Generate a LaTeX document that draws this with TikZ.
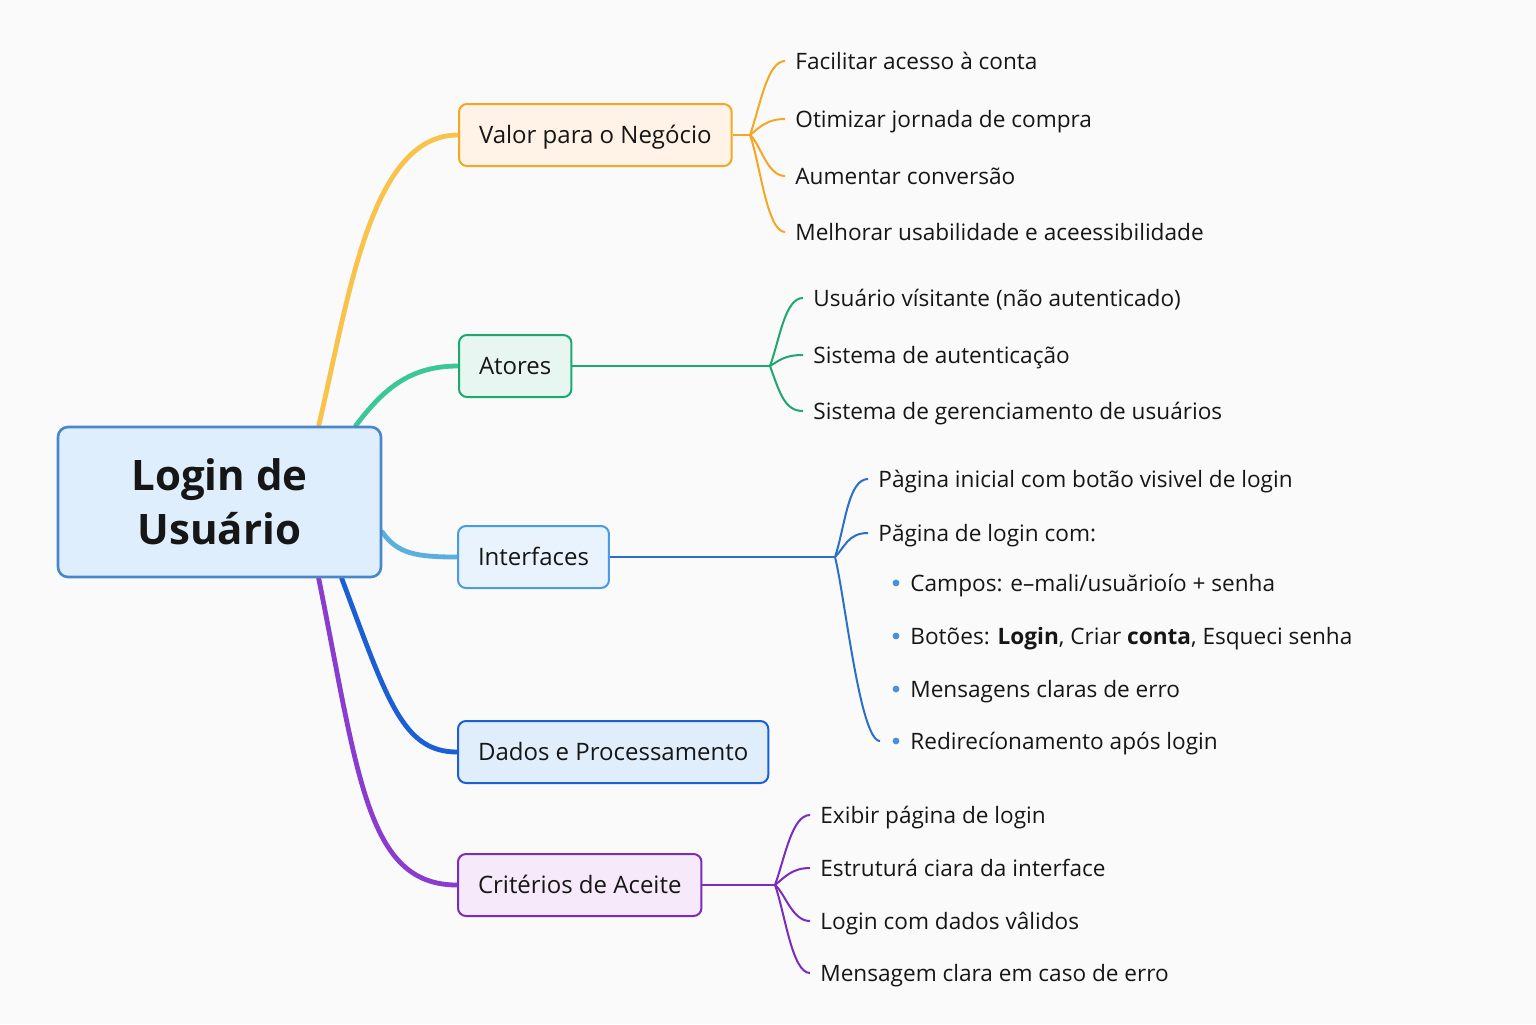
\documentclass[tikz,border=0pt]{standalone}
\usepackage{fontspec}
\setmainfont{Open Sans}
\usepackage{xcolor}
\usetikzlibrary{calc,backgrounds}

\definecolor{ink}{HTML}{161616}
\definecolor{paper}{HTML}{FAFAFA}
\definecolor{rootD}{HTML}{4A86CC}
\definecolor{rootF}{HTML}{DEEEFC}
\definecolor{valD}{HTML}{F5A623}
\definecolor{valF}{HTML}{FEF3E6}
\definecolor{valT}{HTML}{F9C24A}
\definecolor{atoD}{HTML}{1DA86F}
\definecolor{atoF}{HTML}{E8F6F1}
\definecolor{atoT}{HTML}{3CC79A}
\definecolor{intD}{HTML}{4A9BE0}
\definecolor{intF}{HTML}{E8F3FD}
\definecolor{intT}{HTML}{5AAEE0}
\definecolor{intL}{HTML}{2A6FCC}
\definecolor{datD}{HTML}{1A5FD6}
\definecolor{datF}{HTML}{E0EEFC}
\definecolor{criD}{HTML}{7A2BC0}
\definecolor{criF}{HTML}{F5E9FA}
\definecolor{criT}{HTML}{8A3BD0}
\definecolor{dotc}{HTML}{4A90D9}

\begin{document}
\begin{tikzpicture}[x=0.5pt,y=-0.5pt,
      root/.style={
            draw=rootD, fill=rootF, line width=1.3pt,
            rounded corners=5pt, align=center,
            minimum width=161.5pt, minimum height=75pt,
            font=\fontsize{21}{27}\selectfont\bfseries, text=ink
        },
      topic/.style={
            draw, line width=1pt, rounded corners=4pt,
            anchor=west, minimum height=31pt, inner xsep=10pt,
            text height=11pt, text depth=2.5pt,
            font=\fontsize{12}{14}\selectfont, text=ink
        },
      leaf/.style={
            anchor=west, inner xsep=5pt, text height=10.5pt, text depth=2.4pt,
            font=\fontsize{11.3}{13}\selectfont, text=ink
        },
      item/.style={leaf, inner xsep=15pt},
      trunk/.style={line width=2.4pt, line cap=round},
      twig/.style={line width=1pt}
      ]
    \useasboundingbox (0,0) rectangle (1536,1024);

    \node[root] (root) at (219.5,502) {Login de\\Usuário};

    \node[topic, draw=valD, fill=valF] (valor) at (458,135) {Valor para o Negócio};
    \node[topic, draw=atoD, fill=atoF] (atores) at (458,366) {Atores};
    \node[topic, draw=intD, fill=intF] (interf) at (457,557) {Interfaces};
    \node[topic, draw=datD, fill=datF] (dados) at (457,752) {Dados e Processamento};
    \node[topic, draw=criD, fill=criF] (crit) at (457,885) {Critérios de Aceite};

    \node[leaf] (v1) at (785,61) {Facilitar acesso à conta};
    \node[leaf] (v2) at (785,119) {Otimizar jornada de compra};
    \node[leaf] (v3) at (785,176) {Aumentar conversão};
    \node[leaf] (v4) at (785,232) {Melhorar usabilidade e aceessibilidade};

    \node[leaf] (a1) at (803,298) {Usuário vísitante (não autenticado)};
    \node[leaf] (a2) at (803,355) {Sistema de autenticação};
    \node[leaf] (a3) at (803,411) {Sistema de gerenciamento de usuários};

    \node[leaf] (i1) at (868,479) {Pàgina inicial com botão visivel de login};
    \node[leaf] (i2) at (868,533) {Păgina de login com:};
    \node[item] (b1) at (880,583) {Campos: e–mali/usuărioío + senha};
    \node[item] (b2) at (880,636) {Botões: \textbf{Login}, Criar \textbf{conta}, Esqueci senha};
    \node[item] (b3) at (880,689) {Mensagens claras de erro};
    \node[item] (b4) at (880,741) {Redirecíonamento após login};

    \node[leaf] (c1) at (810,815) {Exibir página de login};
    \node[leaf] (c2) at (810,868) {Estruturá ciara da interface};
    \node[leaf] (c3) at (810,921) {Login com dados vâlidos};
    \node[leaf] (c4) at (810,973) {Mensagem clara em caso de erro};

    \coordinate (vj) at ($(valor.west)+(292,0)$);
    \coordinate (aj) at ($(atores.west)+(312,0)$);
    \coordinate (ij) at ($(interf.west)+(378,0)$);
    \coordinate (cj) at ($(crit.west)+(318,0)$);

    \foreach \n in {b1,b2,b3,b4}
      \fill[dotc] ($(\n.west)+(16,0)$) circle (1.7pt);

    \begin{scope}[on background layer]
    \fill[paper] (0,0) rectangle (1536,1024);

    \draw[trunk, valT] ($(root.north west)+(262,0)$) .. controls +(30,-127) and +(-88,0) .. (valor.west);
    \draw[trunk, atoT] ($(root.north west)+(299,0)$) .. controls +(28,-37) and +(-48,0) .. (atores.west);
    \draw[trunk, intT] ($(root.east)+(0,30)$) .. controls +(15,22) and +(-40,0) .. (interf.west);
    \draw[trunk, datD] ($(root.south west)+(285,0)$) .. controls +(45,120) and +(-55,0) .. (dados.west);
    \draw[trunk, criT] ($(root.south west)+(262,0)$) .. controls +(40,200) and +(-90,0) .. (crit.west);

    \draw[twig, valD] (valor.east) -- (vj);
    \foreach \n/\a in {v1/-28,v2/-8,v3/8,v4/28}
      \draw[twig, valD] (vj) .. controls +(10,\a) and +(-18,0) .. (\n.west);

    \draw[twig, atoD] (atores.east) -- (aj);
    \foreach \n/\a in {a1/-28,a2/-6,a3/28}
      \draw[twig, atoD] (aj) .. controls +(10,\a) and +(-18,0) .. (\n.west);

    \draw[twig, intL] (interf.east) -- (ij);
    \foreach \n/\a in {i1/-30,i2/-10,b4/40}
      \draw[twig, intL] (ij) .. controls +(10,\a) and +(-20,0) .. (\n.west);

    \draw[twig, criD] (crit.east) -- (cj);
    \foreach \n/\a in {c1/-28,c2/-8,c3/8,c4/28}
      \draw[twig, criD] (cj) .. controls +(10,\a) and +(-18,0) .. (\n.west);
    \end{scope}
  \end{tikzpicture}
\end{document}
